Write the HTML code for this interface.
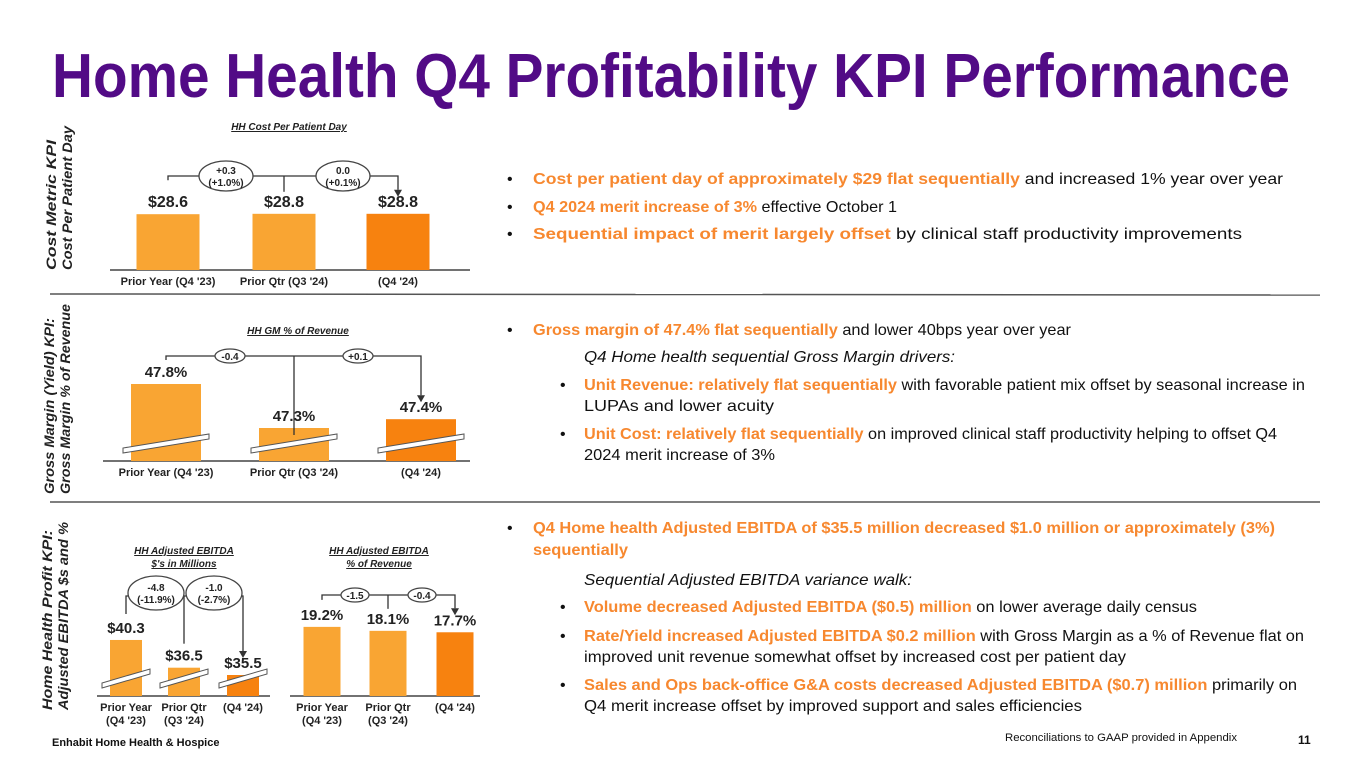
<!DOCTYPE html>
<html><head><meta charset="utf-8"><style>
html,body{margin:0;padding:0;background:#fff;}
svg{display:block;font-family:"Liberation Sans",Arial,sans-serif;}
</style></head><body>
<svg id="slide" width="1365" height="768" viewBox="0 0 1365 768">
<text x="52" y="97" font-size="62" font-weight="bold" fill="#520b86" textLength="1238" lengthAdjust="spacingAndGlyphs">Home Health Q4 Profitability KPI Performance</text>

<line x1="50" y1="294" x2="1320" y2="295" stroke="#555" stroke-width="1.5"/>
<line x1="50" y1="502" x2="1320" y2="502" stroke="#555" stroke-width="1.5"/>

<g font-weight="bold" font-style="italic" font-size="14" fill="#222">
<g transform="translate(56,270) rotate(-90)"><text x="0" y="0" textLength="130" lengthAdjust="spacingAndGlyphs">Cost Metric KPI</text><text x="0" y="16" textLength="144" lengthAdjust="spacingAndGlyphs">Cost Per Patient Day</text></g>
<g transform="translate(54,494) rotate(-90)"><text x="0" y="0" textLength="176" lengthAdjust="spacingAndGlyphs">Gross Margin (Yield) KPI:</text><text x="0" y="16" textLength="190" lengthAdjust="spacingAndGlyphs">Gross Margin % of Revenue</text></g>
<g transform="translate(52,710) rotate(-90)"><text x="0" y="0" textLength="180" lengthAdjust="spacingAndGlyphs">Home Health Profit KPI:</text><text x="0" y="16" textLength="188" lengthAdjust="spacingAndGlyphs">Adjusted EBITDA $s and %</text></g>
</g>

<g id="charts"></g>

<g font-size="16" fill="#111">
<g>
<text x="507" y="184">•</text>
<text x="533" y="184" textLength="750" lengthAdjust="spacingAndGlyphs"><tspan fill="#f7882f" font-weight="bold">Cost per patient day of approximately $29 flat sequentially</tspan> and increased 1% year over year</text>
<text x="507" y="212">•</text>
<text x="533" y="212" textLength="364" lengthAdjust="spacingAndGlyphs"><tspan fill="#f7882f" font-weight="bold">Q4 2024 merit increase of 3%</tspan> effective October 1</text>
<text x="507" y="239">•</text>
<text x="533" y="239" textLength="709" lengthAdjust="spacingAndGlyphs"><tspan fill="#f7882f" font-weight="bold">Sequential impact of merit largely offset</tspan> by clinical staff productivity improvements</text>
</g>
<g>
<text x="507" y="335">•</text>
<text x="533" y="335" textLength="538" lengthAdjust="spacingAndGlyphs"><tspan fill="#f7882f" font-weight="bold">Gross margin of 47.4% flat sequentially</tspan> and lower 40bps year over year</text>
<text x="584" y="362" font-style="italic" textLength="371" lengthAdjust="spacingAndGlyphs">Q4 Home health sequential Gross Margin drivers:</text>
<text x="560" y="390">•</text>
<text x="584" y="390" textLength="721" lengthAdjust="spacingAndGlyphs"><tspan fill="#f7882f" font-weight="bold">Unit Revenue: relatively flat sequentially</tspan> with favorable patient mix offset by seasonal increase in</text>
<text x="584" y="411" textLength="190" lengthAdjust="spacingAndGlyphs">LUPAs and lower acuity</text>
<text x="560" y="439">•</text>
<text x="584" y="439" textLength="693" lengthAdjust="spacingAndGlyphs"><tspan fill="#f7882f" font-weight="bold">Unit Cost: relatively flat sequentially</tspan> on improved clinical staff productivity helping to offset Q4</text>
<text x="584" y="460" textLength="191" lengthAdjust="spacingAndGlyphs">2024 merit increase of 3%</text>
</g>
<g>
<text x="507" y="533">•</text>
<text x="533" y="533" fill="#f7882f" font-weight="bold" textLength="742" lengthAdjust="spacingAndGlyphs">Q4 Home health Adjusted EBITDA of $35.5 million decreased $1.0 million or approximately (3%)</text>
<text x="533" y="555" fill="#f7882f" font-weight="bold" textLength="95" lengthAdjust="spacingAndGlyphs">sequentially</text>
<text x="584" y="585" font-style="italic" textLength="328" lengthAdjust="spacingAndGlyphs">Sequential Adjusted EBITDA variance walk:</text>
<text x="560" y="612">•</text>
<text x="584" y="612" textLength="613" lengthAdjust="spacingAndGlyphs"><tspan fill="#f7882f" font-weight="bold">Volume decreased Adjusted EBITDA ($0.5) million</tspan> on lower average daily census</text>
<text x="560" y="641">•</text>
<text x="584" y="641" textLength="720" lengthAdjust="spacingAndGlyphs"><tspan fill="#f7882f" font-weight="bold">Rate/Yield increased Adjusted EBITDA $0.2 million</tspan> with Gross Margin as a % of Revenue flat on</text>
<text x="584" y="662" textLength="542" lengthAdjust="spacingAndGlyphs">improved unit revenue somewhat offset by increased cost per patient day</text>
<text x="560" y="690">•</text>
<text x="584" y="690" textLength="713" lengthAdjust="spacingAndGlyphs"><tspan fill="#f7882f" font-weight="bold">Sales and Ops back-office G&amp;A costs decreased Adjusted EBITDA ($0.7) million</tspan> primarily on</text>
<text x="584" y="711" textLength="498" lengthAdjust="spacingAndGlyphs">Q4 merit increase offset by improved support and sales efficiencies</text>
</g>
</g>

<text x="52" y="746" font-size="11" font-weight="bold" fill="#111">Enhabit Home Health &amp; Hospice</text>
<text x="1005" y="741" font-size="11" fill="#111" textLength="232" lengthAdjust="spacingAndGlyphs">Reconciliations to GAAP provided in Appendix</text>
<text x="1298" y="744" font-size="12" font-weight="bold" fill="#111">11</text>
</svg>

<script>
const categoriesFull = ["Prior Year (Q4 '23)", "Prior Qtr (Q3 '24)", "(Q4 '24)"];
const categoriesTwoLine = [["Prior Year", "(Q4 '23)"], ["Prior Qtr", "(Q3 '24)"], ["(Q4 '24)"]];
const costValues = [28.6, 28.8, 28.8];
const costLabels = ["$28.6", "$28.8", "$28.8"];
const costChanges = [["+0.3", "(+1.0%)"], ["0.0", "(+0.1%)"]];
const gmValues = [47.8, 47.3, 47.4];
const gmLabels = ["47.8%", "47.3%", "47.4%"];
const gmChanges = [["-0.4"], ["+0.1"]];
const ebitdaValues = [40.3, 36.5, 35.5];
const ebitdaLabels = ["$40.3", "$36.5", "$35.5"];
const ebitdaChanges = [["-4.8", "(-11.9%)"], ["-1.0", "(-2.7%)"]];
const ebitdaPctValues = [19.2, 18.1, 17.7];
const ebitdaPctLabels = ["19.2%", "18.1%", "17.7%"];
const ebitdaPctChanges = [["-1.5"], ["-0.4"]];

const NS = "http://www.w3.org/2000/svg";
const root = document.getElementById("charts");
function mk(tag, attrs, parent, text) {
  const e = document.createElementNS(NS, tag);
  for (const k in attrs) e.setAttribute(k, attrs[k]);
  if (text !== undefined) e.textContent = text;
  (parent || root).appendChild(e);
  return e;
}
const C1 = "#f9a533", C2 = "#f7820f", INK = "#333";

function drawChart(cfg) {
  const g = mk("g", {});
  
  
  cfg.titles.forEach((t, i) => {
    const tx = mk("text", {x: cfg.titleX, y: cfg.titleY + i * 13, "font-size": 10, "font-weight": "bold", "font-style": "italic", "text-anchor": "middle", fill: "#222", "text-decoration": "underline"}, g, t);
    
    
  });
  const ax = mk("line", {x1: cfg.axisX0, x2: cfg.axisX1, y1: cfg.base, y2: cfg.base, stroke: "#444", "stroke-width": 1.5}, g);
  
  
  const tops = [];
  cfg.values.forEach((v, i) => {
    const cx = cfg.xs[i];
    const h = cfg.yScale(v);
    const top = cfg.base - h;
    tops.push(top);
    const r = mk("rect", {x: cx - cfg.bw / 2, y: top, width: cfg.bw, height: h, fill: i === 2 ? C2 : C1}, g);
    
    
    if (cfg.breaks) {
      const y0 = cfg.base - 8, x0 = cx - cfg.bw / 2 - 8, x1 = cx + cfg.bw / 2 + 8, dy = 14;
      const p = mk("polygon", {points: `${x0},${y0} ${x1},${y0 - dy} ${x1},${y0 - dy - 5} ${x0},${y0 - 5}`, fill: "#fff", stroke: "#555", "stroke-width": 1}, g);
      
      
    }
    const lb = mk("text", {x: cx, y: top - 7, "font-size": cfg.valFont, "font-weight": "bold", "text-anchor": "middle", fill: "#222"}, g, cfg.labels[i]);
    
    
    const cats = cfg.cats[i];
    (Array.isArray(cats) ? cats : [cats]).forEach((c, j) => {
      const ct = mk("text", {x: cx, y: cfg.base + 15 + j * 13, "font-size": 11, "font-weight": "bold", "text-anchor": "middle", fill: "#222"}, g, c);
      
      
    });
  });
  const by = cfg.bracketY;
  const path = mk("path", {d: `M${cfg.xs[0]},${tops[0] - cfg.stemGap0} V${by} H${cfg.xs[2]} V${tops[2] - 24}`, fill: "none", stroke: INK, "stroke-width": 1.3}, g);
  
  
  const mid = mk("line", {x1: cfg.xs[1], x2: cfg.xs[1], y1: by, y2: cfg.midEnd(tops[1]), stroke: INK, "stroke-width": 1.3}, g);
  
  
  const ar = mk("polygon", {points: `${cfg.xs[2] - 4},${tops[2] - 24} ${cfg.xs[2] + 4},${tops[2] - 24} ${cfg.xs[2]},${tops[2] - 17}`, fill: INK}, g);
  
  
  cfg.changes.forEach((ch, i) => {
    const ox = cfg.ovalX[i];
    const oy = by + cfg.ovalDy;
    const el = mk("ellipse", {cx: ox, cy: oy, rx: cfg.rx, ry: cfg.ry, fill: "#fff", stroke: "#444", "stroke-width": 1.3}, g);
    
    
    ch.forEach((t, j) => {
      const tt = mk("text", {x: ox, y: oy + 4 + (j - (ch.length - 1) / 2) * 12, "font-size": 10, "font-weight": "bold", "text-anchor": "middle", fill: "#222"}, g, t);
      
      
    });
  });
}

drawChart({
  name: "cost-per-patient-day-chart", titles: ["HH Cost Per Patient Day"], titleX: 289, titleY: 130,
  axisX0: 110, axisX1: 470, base: 270, xs: [168, 284, 398], bw: 63,
  yScale: v => v * 56 / 28.7, values: costValues, labels: costLabels, cats: categoriesFull, valFont: 16,
  bracketY: 176, stemGap0: 34, midEnd: t => t - 22, changes: costChanges, ovalX: [226, 343], ovalDy: 0, rx: 27, ry: 15
});
drawChart({
  name: "gross-margin-chart", titles: ["HH GM % of Revenue"], titleX: 298, titleY: 334,
  axisX0: 103, axisX1: 470, base: 461, xs: [166, 294, 421], bw: 70, breaks: true,
  yScale: v => 33 + 88 * (v - 47.3), values: gmValues, labels: gmLabels, cats: categoriesFull, valFont: 15,
  bracketY: 356, stemGap0: 24, midEnd: t => t + 7, changes: gmChanges, ovalX: [230, 358], ovalDy: 0, rx: 15, ry: 7
});
drawChart({
  name: "adjusted-ebitda-dollars-chart", titles: ["HH Adjusted EBITDA", "$'s in Millions"], titleX: 184, titleY: 554,
  axisX0: 97, axisX1: 270, base: 696, xs: [126, 184, 243], bw: 32, breaks: true,
  yScale: v => 21 + 7.3 * (v - 35.5), values: ebitdaValues, labels: ebitdaLabels, cats: categoriesTwoLine, valFont: 15,
  bracketY: 596, stemGap0: 26, midEnd: t => t - 24, changes: ebitdaChanges, ovalX: [156, 214], ovalDy: -3, rx: 28, ry: 17
});
drawChart({
  name: "adjusted-ebitda-percent-chart", titles: ["HH Adjusted EBITDA", "% of Revenue"], titleX: 379, titleY: 554,
  axisX0: 290, axisX1: 480, base: 696, xs: [322, 388, 455], bw: 37,
  yScale: v => v * 3.6, values: ebitdaPctValues, labels: ebitdaPctLabels, cats: categoriesTwoLine, valFont: 15,
  bracketY: 595, stemGap0: 27, midEnd: t => t - 22, changes: ebitdaPctChanges, ovalX: [355, 422], ovalDy: 0, rx: 14, ry: 7
});
</script>
</body></html>
